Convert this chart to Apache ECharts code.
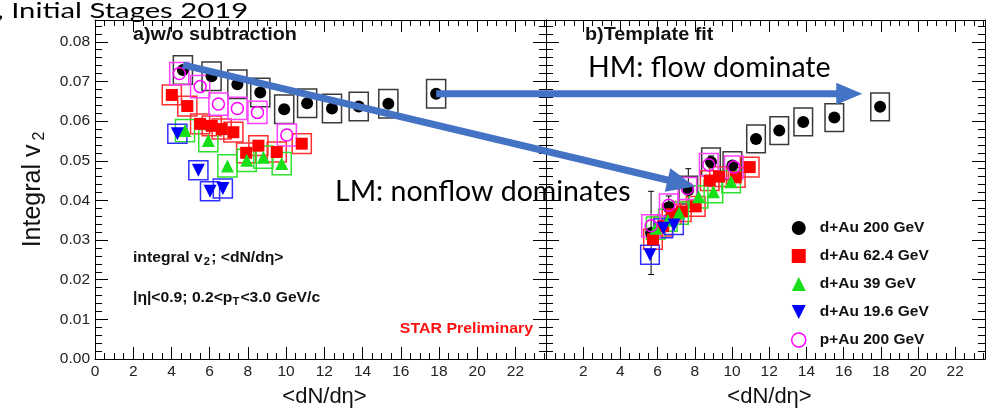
<!DOCTYPE html>
<html>
<head>
<meta charset="utf-8">
<script src="https://cdn.jsdelivr.net/npm/echarts@6/dist/echarts.min.js"></script>
<style>
  html, body { margin: 0; padding: 0; background: #fff; }
  #chart { width: 986px; height: 413px; }
</style>
</head>
<body>
<div id="chart"></div>
<script>
// ---- a) integral v2 without subtraction ----
const dAu200_wo_x  = [4.6, 6.1, 7.45, 8.65, 9.9, 11.1, 12.4, 13.8, 15.35, 17.85];
const dAu200_wo_v2 = [0.0729, 0.0713, 0.0693, 0.0672, 0.0630, 0.0645, 0.0632, 0.0637, 0.0644, 0.0669];
const dAu200_wo_sys = [0.0036, 0.0036, 0.0036, 0.0036, 0.0036, 0.0036, 0.0036, 0.0036, 0.0036, 0.0036];

const dAu62_wo_x  = [4.02, 4.83, 5.50, 6.11, 6.63, 7.24, 7.91, 8.55, 9.51, 10.82];
const dAu62_wo_v2 = [0.0666, 0.0638, 0.0593, 0.0588, 0.0580, 0.0572, 0.0520, 0.0538, 0.0522, 0.0543];
const dAu62_wo_sys = [0.0025, 0.0025, 0.0025, 0.0025, 0.0025, 0.0025, 0.0025, 0.0025, 0.0025, 0.0025];

const dAu39_wo_x  = [4.71, 5.93, 6.93, 7.94, 8.81, 9.77];
const dAu39_wo_v2 = [0.0576, 0.0551, 0.0487, 0.0501, 0.0509, 0.0493];
const dAu39_wo_sys = [0.0028, 0.0028, 0.0028, 0.0028, 0.0028, 0.0028];

const dAu19_wo_x  = [4.31, 5.41, 6.02, 6.69];
const dAu19_wo_v2 = [0.0568, 0.0476, 0.0423, 0.0430];
const dAu19_wo_sys = [0.0024, 0.0024, 0.0024, 0.0024];

const pAu200_wo_x  = [4.41, 5.50, 6.46, 7.45, 8.50, 10.04];
const pAu200_wo_v2 = [0.0720, 0.0687, 0.0643, 0.0632, 0.0622, 0.0565];
const pAu200_wo_sys = [0.0028, 0.0028, 0.0028, 0.0028, 0.0028, 0.0028];

// ---- b) integral v2 after template fit ----
const dAu200_tf_x   = [5.65, 6.6, 7.65, 8.87, 10.02, 11.29, 12.54, 13.83, 15.5, 17.96];
const dAu200_tf_v2  = [0.0318, 0.0383, 0.0426, 0.0497, 0.0488, 0.0555, 0.0576, 0.0598, 0.0609, 0.0636];
const dAu200_tf_err = [0.0105, 0.0028, 0.0054, 0.0015, 0.0010, 0.0008, 0.0006, 0.0005, 0.0005, 0.0005];
const dAu200_tf_sys = [null, null, 0.0035, 0.0035, 0.0035, 0.0035, 0.0035, 0.0035, 0.0035, 0.0035];

const dAu62_tf_x   = [5.75, 6.3, 6.75, 7.3, 8.05, 8.8, 9.3, 10.2, 10.95];
const dAu62_tf_v2  = [0.0302, 0.0335, 0.0365, 0.0372, 0.0385, 0.0450, 0.0460, 0.0458, 0.0484];
const dAu62_tf_sys = [0.0025, 0.0025, 0.0025, 0.0025, 0.0025, 0.0025, 0.0025, 0.0025, 0.0025];

const dAu39_tf_x   = [5.9, 6.55, 7.15, 8.2, 9.0, 9.95];
const dAu39_tf_v2  = [0.0330, 0.0350, 0.0368, 0.0409, 0.0422, 0.0447];
const dAu39_tf_sys = [0.0028, 0.0028, 0.0028, 0.0028, 0.0028, 0.0028];

const dAu19_tf_x   = [5.59, 6.31, 6.88];
const dAu19_tf_v2  = [0.0263, 0.0330, 0.0338];
const dAu19_tf_sys = [0.0024, 0.0024, 0.0024];

const pAu200_tf_x   = [5.65, 6.6, 7.6, 8.75, 10.1];
const pAu200_tf_v2  = [0.0336, 0.0388, 0.0430, 0.0490, 0.0484];
const pAu200_tf_sys = [0.0028, 0.0028, 0.0028, 0.0028, 0.0028];

// ---- axes ----
const xMin = 0, xMax = 23.6, xStep = 2;
const yMin = 0, yMax = 0.0855, yStep = 0.01;
const legendNames = ['d+Au 200 GeV', 'd+Au 62.4 GeV', 'd+Au 39 GeV', 'd+Au 19.6 GeV', 'p+Au 200 GeV'];

// arrow anchors in data coordinates [grid, x, v2]
const arrowLM = { from: [0, 4.6, 0.0742], to: [1, 8.0, 0.0435] };
const arrowHM = { from: [0, 17.85, 0.0669], to: [1, 17.0, 0.0669] };

const FONT = 'Liberation Sans, Arial, Helvetica, sans-serif';
const SLIDE_FONT = 'Lato, Open Sans, sans-serif';

const style = {
  black:   { mark: '#000000', box: '#3a3a3a', symbol: 'circle', rotate: 0, fill: '#000000' },
  red:     { mark: '#ff0000', box: '#ff3030', symbol: 'rect', rotate: 0, fill: '#ff0000' },
  green:   { mark: '#18e018', box: '#30e030', symbol: 'triangle', rotate: 0, fill: '#18e018' },
  blue:    { mark: '#0000ff', box: '#3030ff', symbol: 'triangle', rotate: 180, fill: '#0000ff' },
  magenta: { mark: '#ff00ff', box: '#ff40ff', symbol: 'circle', rotate: 0, fill: 'rgba(0,0,0,0)' }
};

function zip3(a, b, c) { return a.map((v, i) => [v, b[i], c[i]]); }
function zip2(a, b) { return a.map((v, i) => [v, b[i]]); }

function boxSeries(grid, xs, ys, sys, st) {
  return {
    type: 'custom', name: 'sys', xAxisIndex: grid * 2, yAxisIndex: grid * 2,
    silent: true, z: 2,
    data: zip3(xs, ys, sys),
    renderItem: function (params, api) {
      const s = api.value(2);
      if (s === null || isNaN(s)) return null;
      const x = api.value(0), y = api.value(1);
      const p1 = api.coord([x - 0.5, y + s]);
      const p2 = api.coord([x + 0.5, y - s]);
      return {
        type: 'rect',
        shape: { x: p1[0], y: p1[1], width: p2[0] - p1[0], height: p2[1] - p1[1] },
        style: { fill: 'none', stroke: st.box, lineWidth: 1.5 }
      };
    }
  };
}

function errSeries(grid, xs, ys, errs) {
  return {
    type: 'custom', name: 'stat', xAxisIndex: grid * 2, yAxisIndex: grid * 2,
    silent: true, z: 2,
    data: zip3(xs, ys, errs),
    renderItem: function (params, api) {
      const x = api.value(0), y = api.value(1), e = api.value(2);
      const hi = api.coord([x, y + e]);
      const lo = api.coord([x, y - e]);
      const c = 3;
      return {
        type: 'group',
        children: [
          { type: 'line', shape: { x1: hi[0], y1: hi[1], x2: lo[0], y2: lo[1] }, style: { stroke: '#000', lineWidth: 1 } },
          { type: 'line', shape: { x1: hi[0] - c, y1: hi[1], x2: hi[0] + c, y2: hi[1] }, style: { stroke: '#000', lineWidth: 1 } },
          { type: 'line', shape: { x1: lo[0] - c, y1: lo[1], x2: lo[0] + c, y2: lo[1] }, style: { stroke: '#000', lineWidth: 1 } }
        ]
      };
    }
  };
}

function markSeries(grid, name, xs, ys, st) {
  return {
    type: 'scatter', name: name, xAxisIndex: grid * 2, yAxisIndex: grid * 2,
    silent: true, z: 3,
    symbol: st.symbol, symbolRotate: st.rotate,
    symbolSize: st.symbol === 'rect' ? 12 : (st.symbol === 'triangle' ? 13 : 12),
    itemStyle: st.fill === 'rgba(0,0,0,0)'
      ? { color: st.fill, borderColor: st.mark, borderWidth: 1.5, opacity: 1 }
      : { color: st.fill, opacity: 1 },
    data: zip2(xs, ys)
  };
}

function xAxes(grid) {
  const common = {
    type: 'value', gridIndex: grid, min: xMin, max: xMax, interval: xStep,
    axisLine: { show: true, onZero: false, lineStyle: { color: '#000', width: 1 } },
    axisTick: { show: true, inside: true, length: 12, lineStyle: { color: '#000' } },
    minorTick: { show: true, splitNumber: 4, length: 6, lineStyle: { color: '#000' } },
    splitLine: { show: false }, minorSplitLine: { show: false }
  };
  return [
    Object.assign({}, common, {
      position: 'bottom',
      name: '<dN/dη>', nameLocation: 'middle', nameGap: 27,
      nameTextStyle: { fontFamily: FONT, fontSize: 22, color: '#111', padding: [0, 0, 0, 8] },
      axisLabel: {
        show: true, margin: 5, fontFamily: FONT, fontSize: 15.5, color: '#222',
        showMaxLabel: false, showMinLabel: grid === 0,
        formatter: v => String(Math.round(v))
      }
    }),
    Object.assign({}, common, { position: 'top', axisLabel: { show: false } })
  ];
}

function yAxes(grid) {
  const common = {
    type: 'value', gridIndex: grid, min: yMin, max: yMax, interval: yStep,
    axisLine: { show: true, onZero: false, lineStyle: { color: '#000', width: 1 } },
    axisTick: { show: true, inside: true, length: 13, lineStyle: { color: '#000' } },
    minorTick: { show: true, splitNumber: 5, length: 7, lineStyle: { color: '#000' } },
    splitLine: { show: false }, minorSplitLine: { show: false }
  };
  const left = Object.assign({}, common, {
    position: 'left',
    axisLabel: {
      show: grid === 0, margin: 5, fontFamily: FONT, fontSize: 15.5, color: '#222',
      showMaxLabel: false, formatter: v => v.toFixed(2)
    }
  });
  if (grid === 0) {
    Object.assign(left, {
      name: 'Integral v{sub|2}', nameLocation: 'middle', nameGap: 47,
      nameTextStyle: {
        fontFamily: FONT, fontSize: 25, color: '#111',
        rich: { sub: { fontFamily: FONT, fontSize: 16, color: '#111', padding: [14, 0, 0, 4] } }
      }
    });
  }
  return [left, Object.assign({}, common, { position: 'right', axisLabel: { show: false } })];
}

const series = [];
// left panel
series.push(boxSeries(0, dAu200_wo_x, dAu200_wo_v2, dAu200_wo_sys, style.black));
series.push(markSeries(0, legendNames[0], dAu200_wo_x, dAu200_wo_v2, style.black));
series.push(boxSeries(0, dAu62_wo_x, dAu62_wo_v2, dAu62_wo_sys, style.red));
series.push(markSeries(0, legendNames[1], dAu62_wo_x, dAu62_wo_v2, style.red));
series.push(boxSeries(0, dAu39_wo_x, dAu39_wo_v2, dAu39_wo_sys, style.green));
series.push(markSeries(0, legendNames[2], dAu39_wo_x, dAu39_wo_v2, style.green));
series.push(boxSeries(0, dAu19_wo_x, dAu19_wo_v2, dAu19_wo_sys, style.blue));
series.push(markSeries(0, legendNames[3], dAu19_wo_x, dAu19_wo_v2, style.blue));
series.push(boxSeries(0, pAu200_wo_x, pAu200_wo_v2, pAu200_wo_sys, style.magenta));
series.push(markSeries(0, legendNames[4], pAu200_wo_x, pAu200_wo_v2, style.magenta));
// right panel
series.push(errSeries(1, dAu200_tf_x, dAu200_tf_v2, dAu200_tf_err));
series.push(boxSeries(1, dAu200_tf_x, dAu200_tf_v2, dAu200_tf_sys, style.black));
series.push(markSeries(1, legendNames[0], dAu200_tf_x, dAu200_tf_v2, style.black));
series.push(boxSeries(1, dAu62_tf_x, dAu62_tf_v2, dAu62_tf_sys, style.red));
series.push(markSeries(1, legendNames[1], dAu62_tf_x, dAu62_tf_v2, style.red));
series.push(boxSeries(1, dAu39_tf_x, dAu39_tf_v2, dAu39_tf_sys, style.green));
series.push(markSeries(1, legendNames[2], dAu39_tf_x, dAu39_tf_v2, style.green));
series.push(boxSeries(1, dAu19_tf_x, dAu19_tf_v2, dAu19_tf_sys, style.blue));
series.push(markSeries(1, legendNames[3], dAu19_tf_x, dAu19_tf_v2, style.blue));
series.push(boxSeries(1, pAu200_tf_x, pAu200_tf_v2, pAu200_tf_sys, style.magenta));
series.push(markSeries(1, legendNames[4], pAu200_tf_x, pAu200_tf_v2, style.magenta));

const legendIcons = [
  { name: legendNames[0], icon: 'circle', itemStyle: { color: '#000', borderWidth: 0 } },
  { name: legendNames[1], icon: 'rect', itemStyle: { color: '#ff0000', borderWidth: 0 } },
  { name: legendNames[2], icon: 'triangle', itemStyle: { color: '#18e018', borderWidth: 0 } },
  { name: legendNames[3], icon: 'path://M0,0 L10,0 L5,10 Z', itemStyle: { color: '#0000ff', borderWidth: 0 } },
  { name: legendNames[4], icon: 'circle', itemStyle: { color: 'rgba(0,0,0,0)', borderColor: '#ff00ff', borderWidth: 1.5 } }
];

const chart = echarts.init(document.getElementById('chart'), null, { renderer: 'canvas' });

chart.setOption({
  animation: false,
  backgroundColor: '#fff',
  grid: [
    { left: 95, top: 20, width: 451, height: 342, containLabel: false },
    { left: 546, top: 20, width: 439, height: 342, containLabel: false }
  ],
  xAxis: xAxes(0).concat(xAxes(1)),
  yAxis: yAxes(0).concat(yAxes(1)),
  legend: {
    show: true, orient: 'vertical', left: 791, top: 220, padding: 0,
    itemWidth: 14, itemHeight: 14, itemGap: 12,
    selectedMode: false,
    textStyle: { fontFamily: FONT, fontSize: 15.5, lineHeight: 14, fontWeight: 'bold', color: '#111', padding: [0, 0, 0, 9] },
    data: legendIcons
  },
  series: series
});

// arrows and text overlays
function px(anchor) {
  return chart.convertToPixel({ gridIndex: anchor[0] }, [anchor[1], anchor[2]]);
}
function arrow(id, a, b, headLen, headHalf, width, color) {
  const dx = b[0] - a[0], dy = b[1] - a[1];
  const L = Math.hypot(dx, dy);
  const ux = dx / L, uy = dy / L, nx = -uy, ny = ux;
  const bx = b[0] - ux * headLen, by = b[1] - uy * headLen;
  return [
    { id: id + '-shaft', type: 'line', z: 50, silent: true,
      shape: { x1: a[0], y1: a[1], x2: bx + ux * 2, y2: by + uy * 2 },
      style: { stroke: color, lineWidth: width } },
    { id: id + '-head', type: 'polygon', z: 50, silent: true,
      shape: { points: [[b[0], b[1]], [bx + nx * headHalf, by + ny * headHalf], [bx - nx * headHalf, by - ny * headHalf]] },
      style: { fill: color } }
  ];
}

const arrowColor = '#4472c4';
const graphics = []
  .concat(arrow('lm', px(arrowLM.from), px(arrowLM.to), 28, 12, 7, arrowColor))
  .concat(arrow('hm', px(arrowHM.from), px(arrowHM.to), 26, 11, 7, arrowColor))
  .concat([
    { type: 'text', z: 60, silent: true, x: -3, y: 11, scaleX: 1.33,
      style: { text: ', Initial Stages 2019', fontFamily: SLIDE_FONT, fontSize: 22, fill: '#000', verticalAlign: 'middle' } },
    { type: 'text', z: 60, silent: true, x: 588, y: 68,
      style: { text: 'HM: flow dominate', fontFamily: SLIDE_FONT, fontSize: 28.5, fill: '#000', verticalAlign: 'middle' } },
    { type: 'text', z: 60, silent: true, x: 335, y: 192,
      style: { text: 'LM: nonflow dominates', fontFamily: SLIDE_FONT, fontSize: 28.5, fill: '#000', verticalAlign: 'middle' } },
    { type: 'text', z: 40, silent: true, x: 133, y: 35, scaleX: 1.1,
      style: { text: 'a)w/o subtraction', fontFamily: FONT, fontSize: 18, fontWeight: 'bold', fill: '#111', verticalAlign: 'middle' } },
    { type: 'text', z: 40, silent: true, x: 585, y: 35, scaleX: 1.1,
      style: { text: 'b)Template fit', fontFamily: FONT, fontSize: 18, fontWeight: 'bold', fill: '#111', verticalAlign: 'middle' } },
    { type: 'text', z: 40, silent: true, x: 133, y: 258, scaleX: 1.12,
      style: {
        text: 'integral v{s|2}; <dN/dη>', fontFamily: FONT, fontSize: 14, fontWeight: 'bold', fill: '#111', verticalAlign: 'middle',
        rich: { s: { fontFamily: FONT, fontSize: 10, fontWeight: 'bold', fill: '#111', padding: [8, 1, 0, 1] } }
      } },
    { type: 'text', z: 40, silent: true, x: 133, y: 298, scaleX: 1.12,
      style: {
        text: '|η|<0.9; 0.2<p{s|T}<3.0 GeV/c', fontFamily: FONT, fontSize: 14, fontWeight: 'bold', fill: '#111', verticalAlign: 'middle',
        rich: { s: { fontFamily: FONT, fontSize: 10, fontWeight: 'bold', fill: '#111', padding: [8, 1, 0, 0] } }
      } },
    { type: 'text', z: 40, silent: true, x: 533, y: 329, scaleX: 1.06,
      style: { text: 'STAR Preliminary', fontFamily: FONT, fontSize: 15, fontWeight: 'bold', fill: '#ff1010', align: 'right', verticalAlign: 'middle' } }
  ]);

chart.setOption({ graphic: graphics });
</script>
</body>
</html>
